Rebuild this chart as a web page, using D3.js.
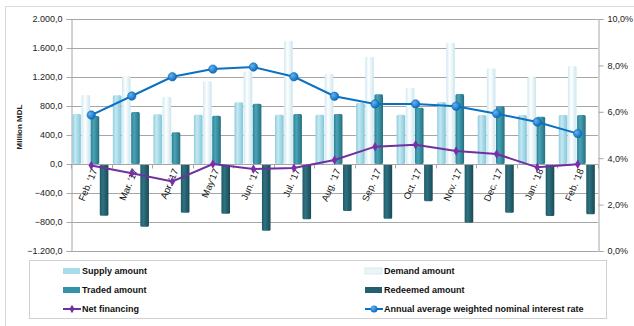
<!DOCTYPE html>
<html><head><meta charset="utf-8">
<script src="https://cdn.jsdelivr.net/npm/d3@7"></script>
<style>body{margin:0;background:#fff}svg{display:block}text{font-family:"Liberation Sans",Arial,sans-serif}</style>
</head><body><svg id="c" width="634" height="326"></svg>
<script>
const categories = ["Feb. '17","Mar. '17","Apr. '17","May'17","Jun. '17","Jul. '17","Aug. '17","Sep. '17","Oct. '17","Nov. '17","Dec. '17","Jan. '18","Feb. '18"];
const supply   = [690, 950, 685, 680, 851, 680, 680, 841, 680, 855, 676, 676, 676];
const demand   = [952, 1214, 929, 1140, 1278, 1701, 1246, 1480, 1053, 1674, 1320, 1205, 1352];
const traded   = [662, 717, 437, 667, 832, 690, 690, 961, 777, 966, 796, 653, 676];
const redeemed = [-713, -865, -671, -685, -920, -763, -648, -754, -515, -809, -671, -717, -694];
const netFinancing = [-20, -128, -240, 0, -69, -55, 55, 239, 266, 179, 138, -46, -4];
const interestRate = [5.86, 6.68, 7.51, 7.84, 7.93, 7.51, 6.67, 6.34, 6.34, 6.24, 5.92, 5.56, 5.06];
const leftTicks = [-1200,-800,-400,0,400,800,1200,1600,2000];
const rightTicks = [0,2,4,6,8,10];
const seriesNames = ["Supply amount","Demand amount","Traded amount","Redeemed amount","Net financing","Annual average weighted nominal interest rate"];

const svg = d3.select("#c");
const L = 71, R = 598, T = 19, B = 251;
const y = d3.scaleLinear().domain([-1200,2000]).range([B,T]);
const y2 = d3.scaleLinear().domain([0,10]).range([B,T]);
const x0 = d3.scaleBand().domain(categories).range([L,R]).padding(0);
const keys = ["supply","demand","traded","redeemed"];
const x1 = d3.scaleBand().domain(keys).range([1.3,37.4]).paddingInner(0.06);
const fmtL = v => { const s = d3.format(",.1f")(v); return s.replace(/,/g,"#").replace(/\./g,",").replace(/#/g,"."); };
const fmtR = v => d3.format(".1f")(v).replace(".",",") + "%";

const defs = svg.append("defs");
function grad(id, stops){
  const g = defs.append("linearGradient").attr("id",id).attr("x1","0").attr("x2","1").attr("y1","0").attr("y2","0");
  stops.forEach(([o,c])=>g.append("stop").attr("offset",o).attr("stop-color",c));
}
grad("gS",[[0,"#8fcddd"],[0.35,"#c4e9f2"],[1,"#84c6d8"]]);
grad("gD",[[0,"#cfe9f1"],[0.4,"#ffffff"],[1,"#cbe6ef"]]);
grad("gT",[[0,"#2b8396"],[0.35,"#4aa3b6"],[1,"#236f80"]]);
grad("gR",[[0,"#1f5a66"],[0.35,"#2f7282"],[1,"#194a55"]]);
const rg = defs.append("radialGradient").attr("id","gM").attr("cx","0.35").attr("cy","0.35").attr("r","0.7");
rg.append("stop").attr("offset",0).attr("stop-color","#5fb4f0");
rg.append("stop").attr("offset",1).attr("stop-color","#0a66b8");
const fills = {supply:"url(#gS)",demand:"url(#gD)",traded:"url(#gT)",redeemed:"url(#gR)"};
const data = {supply, demand, traded, redeemed};

svg.append("rect").attr("x",5.5).attr("y",6.5).attr("width",700).attr("height",400).attr("fill","none").attr("stroke","#d9d9d9");

svg.append("g").selectAll("line").data(leftTicks).join("line")
  .attr("x1",L).attr("x2",R).attr("y1",d=>Math.round(y(d))+0.5).attr("y2",d=>Math.round(y(d))+0.5)
  .attr("stroke","#a6a6a6").attr("stroke-width",1);

const gl = svg.append("g").attr("transform",`translate(${L+0.5},0)`)
  .call(d3.axisLeft(y).tickValues(leftTicks).tickFormat(fmtL).tickSize(5).tickPadding(4));
gl.select(".domain").attr("stroke","#a6a6a6");
gl.selectAll(".tick line").attr("stroke","#a6a6a6");
gl.selectAll("text").attr("font-size","9px").attr("fill","#222");

const gr = svg.append("g").attr("transform",`translate(${R+0.5},0)`)
  .call(d3.axisRight(y2).tickValues(rightTicks).tickFormat(fmtR).tickSize(5).tickPadding(4));
gr.select(".domain").attr("stroke","#a6a6a6");
gr.selectAll(".tick line").attr("stroke","#a6a6a6");
gr.selectAll("text").attr("font-size","9px").attr("fill","#222");

svg.append("text").attr("transform",`translate(22,${(T+B)/2 - 8}) rotate(-90)`).attr("text-anchor","middle")
  .attr("font-size","8px").attr("font-weight","bold").attr("fill","#222").text("Million MDL");

keys.forEach(k=>{
  svg.append("g").selectAll("rect").data(categories).join("rect")
    .attr("x",(c)=>x0(c)+x1(k))
    .attr("width",x1.bandwidth())
    .attr("y",(c,i)=>Math.min(y(data[k][i]),y(0)))
    .attr("height",(c,i)=>Math.abs(y(data[k][i])-y(0)))
    .attr("rx",1.5)
    .attr("fill",fills[k]);
});

const z = Math.round(y(0))+0.5;
svg.append("line").attr("x1",L).attr("x2",R).attr("y1",z).attr("y2",z).attr("stroke","#a6a6a6");
svg.append("g").selectAll("line").data(d3.range(categories.length+1)).join("line")
  .attr("x1",i=>Math.round(L+i*x0.step())+0.5).attr("x2",i=>Math.round(L+i*x0.step())+0.5)
  .attr("y1",z).attr("y2",z+4).attr("stroke","#a6a6a6");

svg.append("g").selectAll("text").data(categories).join("text")
  .attr("transform",c=>`translate(${x0(c)+x0.bandwidth()/2+4},${z+5}) rotate(-67)`)
  .attr("text-anchor","end").attr("dominant-baseline","middle")
  .attr("font-size","9.5px").attr("fill","#111").text(c=>c);

const cx = c => x0(c)+x0.bandwidth()/2;
svg.append("path").datum(netFinancing)
  .attr("d",d3.line().x((d,i)=>cx(categories[i])).y(d=>y(d)))
  .attr("fill","none").attr("stroke","#7030a0").attr("stroke-width",2);
svg.append("g").selectAll("path").data(netFinancing).join("path")
  .attr("d",d3.symbol(d3.symbolDiamond,26))
  .attr("transform",(d,i)=>`translate(${cx(categories[i])},${y(d)})`)
  .attr("fill","#7a2fa8");

svg.append("path").datum(interestRate)
  .attr("d",d3.line().x((d,i)=>cx(categories[i])).y(d=>y2(d)))
  .attr("fill","none").attr("stroke","#0a70c2").attr("stroke-width",2);
svg.append("g").selectAll("circle").data(interestRate).join("circle")
  .attr("cx",(d,i)=>cx(categories[i])).attr("cy",d=>y2(d)).attr("r",4.2)
  .attr("fill","url(#gM)").attr("stroke","#0a66b8").attr("stroke-width",0.6);

svg.append("rect").attr("x",29.5).attr("y",260.5).attr("width",577).attr("height",58).attr("fill","#fff").attr("stroke","#d0d0d0");
const leg = [
  {n:seriesNames[0],t:"bar",f:"#a9dcea",x:63,y:271},
  {n:seriesNames[1],t:"bar",f:"#eaf5f9",x:365,y:271,s:"#c6dfe8"},
  {n:seriesNames[2],t:"bar",f:"#3592a6",x:63,y:290},
  {n:seriesNames[3],t:"bar",f:"#235f6c",x:365,y:290},
  {n:seriesNames[4],t:"line",c:"#7030a0",m:"d",x:63,y:309},
  {n:seriesNames[5],t:"line",c:"#0a70c2",m:"c",x:365,y:309}
];
leg.forEach(o=>{
  const g = svg.append("g");
  if(o.t==="bar"){
    g.append("rect").attr("x",o.x).attr("y",o.y-3).attr("width",17).attr("height",6).attr("fill",o.f).attr("stroke",o.s||"none").attr("stroke-width",0.6);
  } else {
    g.append("line").attr("x1",o.x).attr("x2",o.x+18).attr("y1",o.y).attr("y2",o.y).attr("stroke",o.c).attr("stroke-width",2);
    if(o.m==="d") g.append("path").attr("d",d3.symbol(d3.symbolDiamond,22)).attr("transform",`translate(${o.x+9},${o.y})`).attr("fill",o.c);
    else g.append("circle").attr("cx",o.x+9).attr("cy",o.y).attr("r",3.5).attr("fill","url(#gM)");
  }
  g.append("text").attr("x",o.x+19).attr("y",o.y).attr("dominant-baseline","central")
    .attr("font-size","9px").attr("font-weight","bold").attr("fill","#111").text(o.n);
});
</script></body></html>
